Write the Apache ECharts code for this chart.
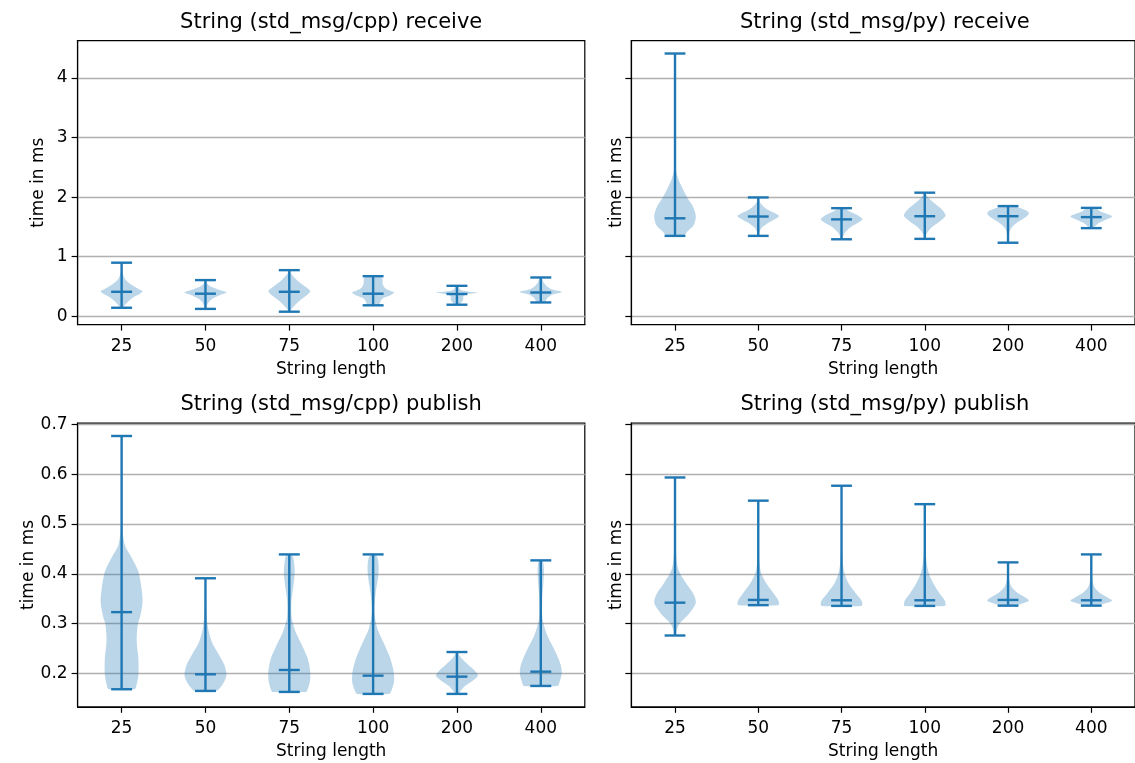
<!DOCTYPE html>
<html><head><meta charset="utf-8">
<script src="https://cdn.jsdelivr.net/npm/echarts@6/dist/echarts.min.js"></script>
<style>html,body{margin:0;padding:0;background:#fff}#c{width:1135px;height:763px}</style>
</head><body><div id="c"></div>
<script>
const categories = ['25', '50', '75', '100', '200', '400'];
const positions = [1, 2, 3, 4, 5, 6];
const receiveTicks = [0, 1, 2, 3, 4];
const receiveTickLabels = ['0', '1', '2', '3', '4'];
const publishTicks = [0.2, 0.3, 0.4, 0.5, 0.6, 0.7];
const publishTickLabels = ['0.2', '0.3', '0.4', '0.5', '0.6', '0.7'];

// String (std_msg/cpp) receive
const cppReceiveMin = [0.144, 0.125, 0.078, 0.185, 0.195, 0.233];
const cppReceiveMax = [0.9, 0.608, 0.775, 0.674, 0.512, 0.652];
const cppReceiveMedian = [0.412, 0.38, 0.412, 0.38, 0.375, 0.40];
const cppReceiveProfiles = [
  [[0.9,0],[0.8,0.02],[0.72,0.06],[0.65,0.12],[0.6,0.22],[0.55,0.38],[0.5,0.6],[0.45,0.85],[0.42,1.0],[0.38,0.88],[0.33,0.6],[0.27,0.38],[0.2,0.18],[0.144,0.06]],
  [[0.608,0.01],[0.55,0.08],[0.5,0.25],[0.45,0.6],[0.4,1.0],[0.36,0.7],[0.3,0.35],[0.25,0.18],[0.2,0.09],[0.125,0.02]],
  [[0.775,0.02],[0.7,0.12],[0.6,0.38],[0.5,0.75],[0.42,1.0],[0.35,0.82],[0.28,0.55],[0.2,0.3],[0.13,0.12],[0.078,0.03]],
  [[0.674,0.35],[0.62,0.45],[0.55,0.45],[0.48,0.55],[0.43,0.8],[0.4,1.0],[0.36,0.85],[0.31,0.5],[0.25,0.35],[0.2,0.3],[0.185,0.28]],
  [[0.512,0.05],[0.45,0.15],[0.42,0.45],[0.395,1.0],[0.37,0.45],[0.33,0.3],[0.28,0.3],[0.23,0.2],[0.195,0.12]],
  [[0.652,0.05],[0.58,0.12],[0.5,0.3],[0.45,0.55],[0.41,1.0],[0.37,0.6],[0.32,0.35],[0.27,0.25],[0.233,0.2]]
];

// String (std_msg/py) receive
const pyReceiveMin = [1.35, 1.35, 1.293, 1.3, 1.235, 1.48];
const pyReceiveMax = [4.41, 1.995, 1.815, 2.075, 1.85, 1.82];
const pyReceiveMedian = [1.645, 1.675, 1.627, 1.68, 1.68, 1.665];
const pyReceiveProfiles = [
  [[4.41,0],[3.2,0.005],[2.6,0.02],[2.45,0.05],[2.3,0.16],[2.15,0.36],[2.0,0.58],[1.85,0.85],[1.68,1.0],[1.52,0.88],[1.42,0.58],[1.35,0.4]],
  [[1.995,0.02],[1.9,0.1],[1.8,0.4],[1.72,0.85],[1.68,1.0],[1.62,0.75],[1.55,0.4],[1.48,0.15],[1.4,0.05],[1.35,0.02]],
  [[1.815,0.1],[1.75,0.45],[1.68,0.85],[1.63,1.0],[1.57,0.8],[1.5,0.45],[1.42,0.2],[1.35,0.08],[1.293,0.03]],
  [[2.075,0.02],[2.0,0.15],[1.9,0.45],[1.8,0.8],[1.69,1.0],[1.6,0.75],[1.5,0.35],[1.42,0.15],[1.35,0.05],[1.3,0.02]],
  [[1.85,0.2],[1.8,0.7],[1.74,1.0],[1.68,0.9],[1.6,0.55],[1.52,0.25],[1.45,0.1],[1.35,0.04],[1.235,0.02]],
  [[1.82,0.15],[1.76,0.45],[1.7,0.9],[1.67,1.0],[1.62,0.7],[1.56,0.35],[1.5,0.15],[1.48,0.12]]
];

// String (std_msg/cpp) publish
const cppPublishMin = [0.168, 0.1646, 0.1626, 0.1586, 0.1586, 0.1746];
const cppPublishMax = [0.677, 0.391, 0.439, 0.439, 0.2428, 0.427];
const cppPublishMedian = [0.323, 0.198, 0.2067, 0.1953, 0.1933, 0.2033];
const cppPublishProfiles = [
  [[0.677,0],[0.6,0.005],[0.52,0.02],[0.48,0.06],[0.455,0.18],[0.431,0.5],[0.404,0.8],[0.37,0.95],[0.344,1.0],[0.317,0.9],[0.297,0.77],[0.264,0.72],[0.23,0.8],[0.197,0.8],[0.175,0.7],[0.168,0.62]],
  [[0.391,0],[0.364,0.02],[0.297,0.1],[0.2636,0.3],[0.237,0.65],[0.2167,0.9],[0.1967,1.0],[0.18,0.85],[0.1665,0.6],[0.1646,0.5]],
  [[0.439,0.1],[0.431,0.2],[0.404,0.26],[0.377,0.2],[0.344,0.1],[0.31,0.12],[0.2837,0.3],[0.257,0.6],[0.23,0.88],[0.2033,1.0],[0.183,0.98],[0.1645,0.85],[0.1626,0.8]],
  [[0.439,0.12],[0.424,0.25],[0.397,0.25],[0.364,0.13],[0.324,0.06],[0.29,0.2],[0.257,0.55],[0.23,0.82],[0.2033,0.98],[0.183,1.0],[0.163,0.85],[0.1586,0.75]],
  [[0.2428,0.05],[0.237,0.1],[0.2267,0.3],[0.2167,0.55],[0.205,0.85],[0.195,1.0],[0.185,0.75],[0.175,0.4],[0.165,0.18],[0.1586,0.1]],
  [[0.427,0.08],[0.411,0.15],[0.384,0.13],[0.35,0.07],[0.31,0.08],[0.277,0.3],[0.2435,0.7],[0.2167,0.95],[0.2,1.0],[0.183,0.9],[0.1746,0.8]]
];

// String (std_msg/py) publish
const pyPublishMin = [0.276, 0.337, 0.3355, 0.3355, 0.336, 0.336];
const pyPublishMax = [0.5936, 0.547, 0.577, 0.54, 0.423, 0.439];
const pyPublishMedian = [0.342, 0.3475, 0.3468, 0.3468, 0.3475, 0.3468];
const pyPublishProfiles = [
  [[0.5936,0],[0.5,0.01],[0.45,0.04],[0.41,0.15],[0.38,0.55],[0.36,0.88],[0.342,1.0],[0.327,0.8],[0.314,0.55],[0.3,0.22],[0.286,0.08],[0.276,0.05]],
  [[0.547,0],[0.45,0.02],[0.42,0.06],[0.4,0.15],[0.38,0.4],[0.36,0.75],[0.348,0.95],[0.34,1.0],[0.337,0.95]],
  [[0.577,0],[0.46,0.02],[0.42,0.07],[0.4,0.15],[0.38,0.35],[0.36,0.7],[0.347,0.95],[0.34,1.0],[0.3355,0.95]],
  [[0.54,0],[0.45,0.03],[0.42,0.1],[0.4,0.2],[0.38,0.42],[0.36,0.72],[0.347,0.95],[0.34,1.0],[0.3355,0.97]],
  [[0.423,0.01],[0.39,0.05],[0.375,0.15],[0.362,0.45],[0.352,0.85],[0.346,1.0],[0.34,0.65],[0.336,0.35]],
  [[0.439,0.01],[0.39,0.05],[0.375,0.13],[0.362,0.4],[0.352,0.8],[0.346,1.0],[0.34,0.6],[0.336,0.3]]
];

const FONT = 'DejaVu Sans';
const LINE = '#1f77b4';
const FILL = 'rgba(31,119,180,0.3)';
const LW = 2.4;
const HALF = 0.25, CAP = 0.125;

function makeRender(profiles) {
  return function (params, api) {
    const k = params.dataIndex;
    const x = api.value(0), lo = api.value(1), hi = api.value(2), med = api.value(3);
    const prof = profiles[k];
    const pts = [];
    prof.forEach(function (p) { pts.push(api.coord([x + p[1] * HALF, p[0]])); });
    for (let i = prof.length - 1; i >= 0; i--) pts.push(api.coord([x - prof[i][1] * HALF, prof[i][0]]));
    function seg(v) {
      const a = api.coord([x - CAP, v]), b = api.coord([x + CAP, v]);
      return {type: 'line', shape: {x1: a[0], y1: a[1], x2: b[0], y2: b[1]}, style: {stroke: LINE, lineWidth: LW}};
    }
    const t = api.coord([x, hi]), b = api.coord([x, lo]);
    return {type: 'group', children: [
      {type: 'polygon', shape: {points: pts, smooth: 0.3}, style: {fill: FILL}},
      {type: 'line', shape: {x1: t[0], y1: t[1], x2: b[0], y2: b[1]}, style: {stroke: LINE, lineWidth: LW}},
      seg(hi), seg(lo), seg(med)
    ]};
  };
}

const panels = [
  {title: 'String (std_msg/cpp) receive', min: cppReceiveMin, max: cppReceiveMax, med: cppReceiveMedian, prof: cppReceiveProfiles, ticks: receiveTicks, labels: receiveTickLabels, ymin: -0.1386, ymax: 4.6266, left: 77.6, top: 40.6, h: 284, showLabels: true},
  {title: 'String (std_msg/py) receive', min: pyReceiveMin, max: pyReceiveMax, med: pyReceiveMedian, prof: pyReceiveProfiles, ticks: receiveTicks, labels: receiveTickLabels, ymin: -0.1386, ymax: 4.6266, left: 631.3, top: 40.6, h: 284, showLabels: false},
  {title: 'String (std_msg/cpp) publish', min: cppPublishMin, max: cppPublishMax, med: cppPublishMedian, prof: cppPublishProfiles, ticks: publishTicks, labels: publishTickLabels, ymin: 0.1327, ymax: 0.7029, left: 77.6, top: 423.1, h: 283.7, showLabels: true},
  {title: 'String (std_msg/py) publish', min: pyPublishMin, max: pyPublishMax, med: pyPublishMedian, prof: pyPublishProfiles, ticks: publishTicks, labels: publishTickLabels, ymin: 0.1327, ymax: 0.7029, left: 631.3, top: 423.1, h: 283.7, showLabels: false}
];
const W = 507.2;
const txt = {fontFamily: FONT, fontSize: 17, color: '#000'};

const option = {
  backgroundColor: '#fff',
  animation: false,
  title: panels.map(function (p) {
    return {text: p.title, left: p.left + W / 2, top: p.top - 29, textAlign: 'center', padding: 0,
      textStyle: {fontFamily: FONT, fontSize: 21, fontWeight: 'normal', color: '#000'}};
  }),
  grid: panels.map(function (p) {
    return {left: p.left, top: p.top, width: W, height: p.h, show: true, borderColor: '#000', borderWidth: 1.2, backgroundColor: '#fff', containLabel: false};
  }),
  xAxis: panels.map(function (p, i) {
    return {type: 'value', gridIndex: i, min: 0.475, max: 6.525,
      axisLine: {show: true, onZero: false, lineStyle: {color: '#000', width: 1.2}},
      axisTick: {show: true, customValues: positions, length: 6, lineStyle: {color: '#000', width: 1.2}},
      axisLabel: Object.assign({customValues: positions, margin: 13, formatter: function (v) { return categories[positions.indexOf(Math.round(v))]; }}, txt),
      splitLine: {show: false},
      name: 'String length', nameLocation: 'middle', nameGap: 36, nameTextStyle: txt};
  }),
  yAxis: panels.map(function (p, i) {
    return {type: 'value', gridIndex: i, min: p.ymin, max: p.ymax,
      axisLine: {show: true, onZero: false, lineStyle: {color: '#000', width: 1.2}},
      axisTick: {show: true, customValues: p.ticks, length: 6, lineStyle: {color: '#000', width: 1.2}},
      axisLabel: Object.assign({show: p.showLabels, customValues: p.ticks, margin: 10, formatter: function (v) {
        let best = 0; p.ticks.forEach(function (t, j) { if (Math.abs(t - v) < Math.abs(p.ticks[best] - v)) best = j; });
        return p.labels[best]; }}, txt),
      splitLine: {show: true, lineStyle: {color: '#b0b0b0', width: 1.4}},
      name: 'time in ms', nameLocation: 'middle', nameRotate: 90, nameGap: p.showLabels ? 31 : 6, nameTextStyle: txt};
  }),
  series: panels.map(function (p, i) {
    return {type: 'custom', xAxisIndex: i, yAxisIndex: i,
      data: positions.map(function (x, k) { return [x, p.min[k], p.max[k], p.med[k]]; }),
      encode: {x: 0, y: [1, 2, 3]},
      renderItem: makeRender(p.prof), z: 5};
  })
};
const chart = echarts.init(document.getElementById('c'), null, {renderer: 'canvas'});
chart.setOption(option);
</script></body></html>
